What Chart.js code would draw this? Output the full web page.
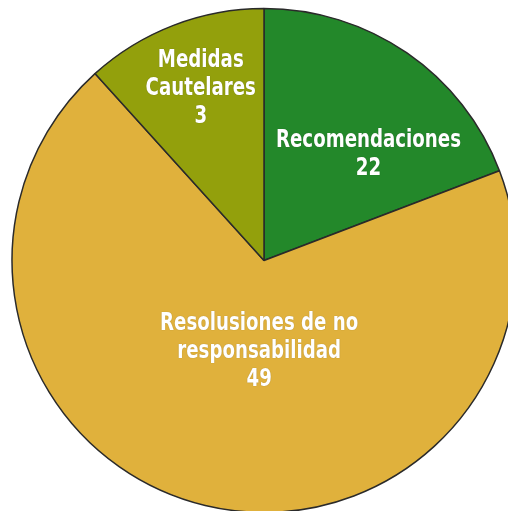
<!DOCTYPE html>
<html>
<head>
<meta charset="utf-8">
<script src="https://cdn.jsdelivr.net/npm/chart.js@4/dist/chart.umd.min.js"></script>
<style>
    html, body { margin: 0; padding: 0; background: #ffffff; overflow: hidden; }
    #wrap { position: absolute; left: 0; top: 0; width: 528px; height: 521px; }
</style>
</head>
<body>
<div id="wrap"><canvas id="myPieChart"></canvas></div>
<script>
// categories, shown counts and slice shares (%)
var categories = ["Recomendaciones", "Resolusiones de no responsabilidad", "Medidas Cautelares"];
var counts = [22, 49, 3];
var shares = [19.2, 69.1, 11.7];
var labelLines = [["Recomendaciones"], ["Resolusiones de no", "responsabilidad"], ["Medidas", "Cautelares"]];
var colors = ["#23882a", "#e0b13c", "#93a00c"];

// where each label sits inside its slice: fraction along the arc, fraction of the radius
var labelPlace = [
    { along: 0.646, r: 0.59 },
    { along: 0.458, r: 0.36 },
    { along: 0.52, r: 0.726 },
];

var sliceLabels = {
    id: "sliceLabels",
    afterDatasetsDraw: function (chart) {
        var ctx = chart.ctx;
        var meta = chart.getDatasetMeta(0);
        ctx.save();
        ctx.font = "bold 25px 'Liberation Sans Narrow', 'DejaVu Sans Condensed', sans-serif";
        // squeeze the text so "Recomendaciones" is about 185px wide, like the original
        var sx = Math.min(1, 185 / ctx.measureText("Recomendaciones").width);
        ctx.restore();
        meta.data.forEach(function (arc, i) {
            var p = arc.getProps(["x", "y", "startAngle", "endAngle", "outerRadius"], true);
            var a = p.startAngle + labelPlace[i].along * (p.endAngle - p.startAngle);
            var r = labelPlace[i].r * p.outerRadius;
            var cx = p.x + Math.cos(a) * r;
            var cy = p.y + Math.sin(a) * r;
            var lines = labelLines[i].concat([String(counts[i])]);
            var lh = 28;
            var y0 = cy - (lines.length - 1) * lh / 2;
            ctx.save();
            ctx.translate(cx, 0);
            ctx.scale(sx, 1);
            ctx.font = "bold 25px 'Liberation Sans Narrow', 'DejaVu Sans Condensed', sans-serif";
            ctx.fillStyle = "#ffffff";
            ctx.textAlign = "center";
            ctx.textBaseline = "middle";
            ctx.shadowColor = "rgba(0,0,0,0.3)";
            ctx.shadowBlur = 1;
            lines.forEach(function (t, k) {
                ctx.fillText(t, 0, y0 + k * lh);
            });
            ctx.restore();
        });
    },
};

$ready = function () {
    var pieChart = document.getElementById("myPieChart");
    new Chart(pieChart, {
        type: "pie",
        data: {
            labels: categories,
            datasets: [
                {
                    data: shares,
                    backgroundColor: colors,
                    borderColor: "#2a2a2a",
                    borderWidth: 1.5,
                },
            ],
        },
        options: {
            responsive: true,
            maintainAspectRatio: false,
            animation: false,
            radius: 252,
            layout: { padding: 0 },
            plugins: {
                legend: { display: false },
                tooltip: { enabled: false },
            },
        },
        plugins: [sliceLabels],
    });
};
$ready();
</script>
</body>
</html>
